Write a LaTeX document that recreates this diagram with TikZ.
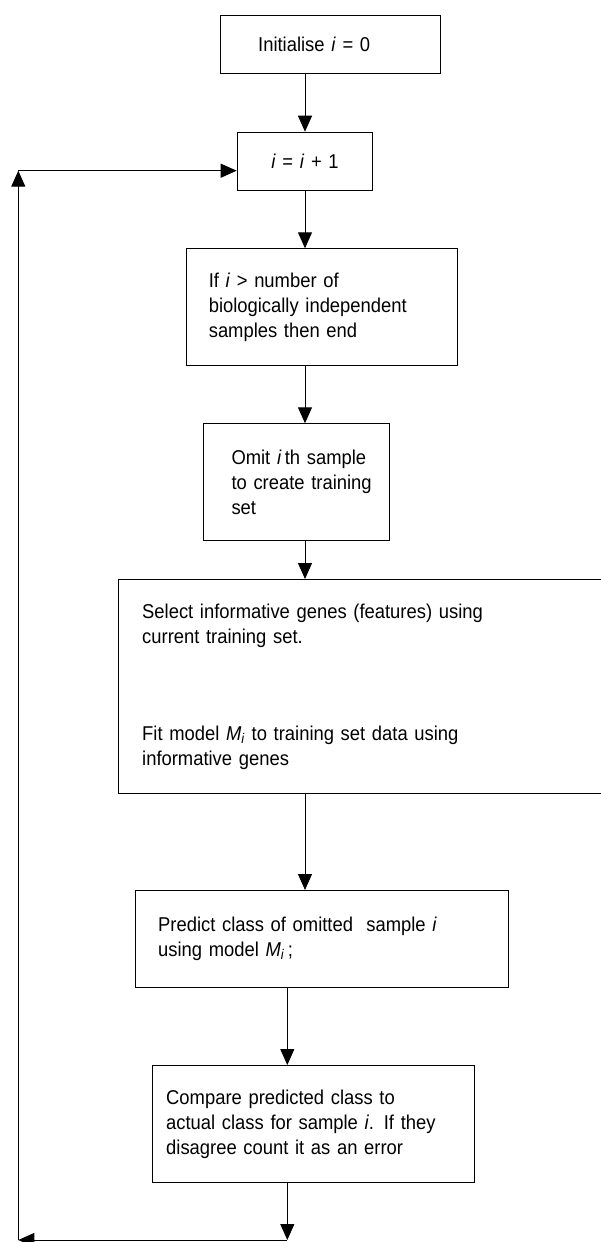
\documentclass[tikz,border=0pt]{standalone}
\usepackage{fontspec}
\setmainfont{Liberation Sans}[FakeStretch=0.92]
\usetikzlibrary{arrows.meta}
\hyphenpenalty=10000

\tikzset{
  box/.style={draw,line width=1pt,rectangle,anchor=north west,align=left,
    inner ysep=0pt,font=\fontsize{20}{25}\selectfont},
  arr/.style={-{Triangle[length=16pt,width=14pt]},line width=1pt},
}

\begin{document}
\begin{tikzpicture}[x=1pt,y=-1pt]
\useasboundingbox (0,0) rectangle (600,1242);

% the boxes, top to bottom
\node (init) at (219.7,15) [box,minimum width=220.3,minimum height=57.7,
  inner xsep=38,text width=144.3] {Initialise \textit{i} = 0};
\node (inc) at (236.7,131.7) [box,align=center,minimum width=135.6,minimum height=58.3,
  inner xsep=5,text width=125.6] {\textit{i} = \textit{i} + 1};
\node (check) at (185.7,248.3) [box,minimum width=271.6,minimum height=116.7,
  inner xsep=22.6,text width=226.4]
  {If \textit{i} > number of\\biologically~independent\\samples then end};
\node (omit) at (202.7,423.3) [box,minimum width=186.6,minimum height=116.7,
  inner xsep=28.3,text width=130]
  {Omit~\textit{i}\,th~sample\\to~create~training\\set};
\node (fit) at (118.3,579) [box,minimum width=500,minimum height=213.7,
  inner xsep=23.4,text width=453.2]
  {Select informative genes (features) using\\current training set.\\[72pt]
   Fit model \textit{M}\textsubscript{\textit{i}} to training set data using\\informative genes};
\node (predict) at (134.7,890) [box,minimum width=373.3,minimum height=96.7,
  inner xsep=23,text width=327.3]
  {Predict class of omitted\ \ sample \textit{i}\\using model \textit{M}\textsubscript{\textit{i}}\,;};
\node (compare) at (152,1065) [box,minimum width=321.7,minimum height=116.7,
  inner xsep=13.7,text width=294.3]
  {Compare predicted class to\\actual class for sample \textit{i}. If they\\disagree count it as an error};

% loop back
\coordinate (back) at (287.3,1240);
\coordinate (corner) at (18.3,1240);
\coordinate (top) at (18.3,170.7);

\draw[arr] (inc.north |- init.south) -- (inc.north);
\draw[arr] (inc.south) -- (inc.south |- check.north);
\draw[arr] (check.south -| inc.south) -- (omit.north -| inc.south);
\draw[arr] (omit.south -| inc.south) -- (fit.north -| inc.south);
\draw[arr] (fit.south -| inc.south) -- (predict.north -| inc.south);
\draw[arr] (predict.south -| back) -- (compare.north -| back);
\draw[arr] (compare.south -| back) -- (back);
\draw[arr] (back) -- (corner);
\draw[arr] (corner) -- (top);
\draw[arr] (top) -- (top -| inc.west);

\end{tikzpicture}
\end{document}
